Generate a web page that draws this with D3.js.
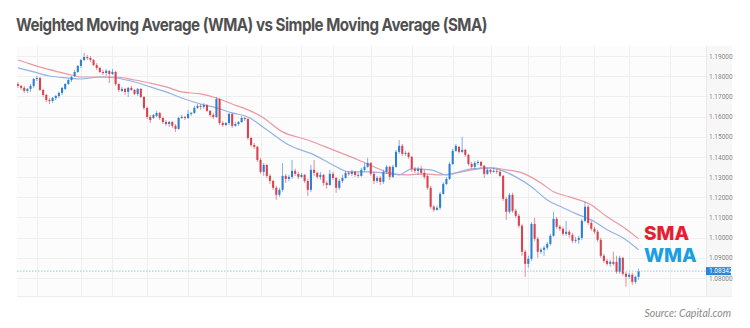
<!DOCTYPE html>
<html><head><meta charset="utf-8">
<script src="https://cdn.jsdelivr.net/npm/d3@7"></script>
<style>html,body{margin:0;padding:0;background:#fff;}svg{display:block}</style>
</head><body>
<svg id="chart" width="750" height="328"></svg>
<script>
// ---- DATA (EUR/USD style daily candles) ----
const open = [
1.1761,1.1752,1.1742,1.1727,1.1737,1.1752,1.1786,1.1791,1.1732,1.1707,
1.1682,1.1677,1.1692,1.1702,1.1717,
1.1737,1.1761,1.1781,
1.1801,1.1821,1.1851,1.1880,1.1895,1.1890,1.1880,1.1855,1.1841,1.1821,
1.1816,1.1826,1.1811,1.1821,1.1761,
1.1727,1.1737,1.1722,1.1742,1.1732,1.1712,1.1737,1.1697,1.1643,1.1598,
1.1593,
1.1603,
1.1618,1.1593,1.1573,1.1563,1.1573,1.1554,1.1539,
1.1593,1.1598,1.1593,1.1613,1.1618,1.1643,1.1653,1.1648,1.1657,1.1628,
1.1608,1.1598,1.1687,1.1568,1.1558,1.1568,1.1613,1.1554,1.1563,1.1573,
1.1593,1.1588,1.1494,1.1459,1.1450,1.1385,1.1326,1.1360,1.1306,1.1281,
1.1247,1.1212,1.1237,1.1306,1.1291,1.1301,1.1331,1.1316,1.1301,1.1311,
1.1281,1.1237,1.1336,1.1321,1.1301,1.1311,1.1271,1.1261,1.1316,1.1296,
1.1247,1.1281,1.1296,1.1321,1.1316,1.1326,1.1311,1.1306,1.1336,1.1351,
1.1370,1.1316,1.1281,1.1296,1.1276,1.1326,1.1351,1.1301,1.1351,1.1425,
1.1455,1.1415,1.1420,1.1400,1.1341,1.1331,1.1341,1.1321,
1.1306,1.1247,1.1153,1.1138,1.1148,1.1217,1.1266,1.1291,1.1365,1.1430,
1.1450,1.1425,1.1435,1.1410,1.1365,1.1351,1.1370,1.1375,1.1356,
1.1316,1.1336,1.1326,1.1331,1.1326,1.1306,1.1192,1.1128,1.1212,1.1133,
1.1108,1.1059,1.0930,1.0870,1.0895,1.1068,1.0994,1.0930,1.0940,1.0950,
1.0969,1.1009,1.1093,1.1054,1.1044,1.1019,1.1029,1.1014,1.0984,1.0989,
1.0999,1.1083,1.1153,1.1073,1.1044,1.1029,1.0989,1.0910,1.0885,1.0870,
1.0880,1.0880,1.0831,1.0900,1.0821,1.0806,1.0816,1.0781,1.0806
];
const close = [
1.1752,1.1742,1.1727,1.1737,1.1752,1.1786,1.1791,1.1732,1.1707,1.1682,
1.1677,1.1692,1.1702,1.1717,1.1742,
1.1761,1.1781,1.1796,
1.1821,1.1851,1.1880,1.1895,1.1890,1.1880,1.1855,1.1841,1.1821,1.1816,
1.1826,1.1811,1.1821,1.1761,1.1732,
1.1737,1.1722,1.1742,1.1732,1.1712,1.1737,1.1697,1.1643,1.1598,1.1583,
1.1608,
1.1618,
1.1593,1.1573,1.1563,1.1573,1.1554,1.1539,1.1593,
1.1598,1.1593,1.1613,1.1618,1.1643,1.1653,1.1648,1.1657,1.1628,1.1608,
1.1598,1.1687,1.1568,1.1558,1.1568,1.1613,1.1554,1.1563,1.1573,1.1593,
1.1588,1.1494,1.1459,1.1450,1.1385,1.1326,1.1360,1.1306,1.1281,1.1247,
1.1212,1.1237,1.1306,1.1291,1.1301,1.1331,1.1316,1.1301,1.1311,1.1281,
1.1237,1.1336,1.1321,1.1301,1.1311,1.1271,1.1261,1.1316,1.1296,1.1247,
1.1281,1.1296,1.1321,1.1316,1.1326,1.1311,1.1306,1.1336,1.1351,1.1370,
1.1316,1.1281,1.1296,1.1276,1.1326,1.1351,1.1301,1.1351,1.1425,1.1455,
1.1415,1.1420,1.1400,1.1341,1.1331,1.1341,1.1321,1.1301,
1.1247,1.1153,1.1138,1.1148,1.1217,1.1266,1.1291,1.1365,1.1430,1.1455,
1.1425,1.1435,1.1410,1.1365,1.1351,1.1370,1.1375,1.1356,1.1316,
1.1336,1.1326,1.1331,1.1326,1.1306,1.1192,1.1128,1.1212,1.1133,1.1108,
1.1059,1.0930,1.0870,1.0895,1.1068,1.0994,1.0930,1.0940,1.0950,1.0969,
1.1009,1.1093,1.1054,1.1044,1.1019,1.1029,1.1014,1.0984,1.0989,1.0999,
1.1083,1.1153,1.1073,1.1044,1.1029,1.0989,1.0910,1.0885,1.0870,1.0880,
1.0870,1.0831,1.0900,1.0821,1.0806,1.0816,1.0781,1.0806,1.08342
];
const high = [
1.1771,1.1756,1.1752,1.1742,1.1761,1.1791,1.1801,1.1796,1.1737,1.1712,
1.1692,1.1697,1.1707,1.1722,1.1747,
1.1766,1.1791,1.1801,
1.1831,1.1855,1.1885,1.1915,1.1905,1.1900,1.1885,1.1865,1.1846,1.1831,
1.1836,1.1831,1.1836,1.1826,1.1766,
1.1747,1.1742,1.1747,1.1752,1.1737,1.1742,1.1742,1.1702,1.1648,1.1608,
1.1613,
1.1628,
1.1623,1.1598,1.1583,1.1578,1.1578,1.1563,1.1598,
1.1608,1.1603,1.1633,1.1623,1.1653,1.1662,1.1662,1.1667,1.1662,1.1633,
1.1618,1.1697,1.1692,1.1578,1.1573,1.1618,1.1618,1.1573,1.1578,1.1603,
1.1598,1.1593,1.1499,1.1469,1.1455,1.1395,1.1370,1.1365,1.1316,1.1286,
1.1257,1.1247,1.1370,1.1316,1.1311,1.1385,1.1341,1.1326,1.1321,1.1316,
1.1291,1.1360,1.1385,1.1326,1.1326,1.1316,1.1281,1.1336,1.1326,1.1301,
1.1291,1.1311,1.1331,1.1331,1.1336,1.1331,1.1321,1.1346,1.1370,1.1395,
1.1375,1.1326,1.1306,1.1306,1.1336,1.1360,1.1356,1.1360,1.1435,1.1484,
1.1464,1.1430,1.1425,1.1405,1.1351,1.1351,1.1356,1.1336,
1.1311,1.1257,1.1162,1.1158,1.1227,1.1276,1.1301,1.1375,1.1440,1.1464,
1.1455,1.1499,1.1440,1.1415,1.1375,1.1380,1.1385,1.1380,1.1360,
1.1346,1.1341,1.1346,1.1341,1.1336,1.1311,1.1202,1.1222,1.1222,1.1143,
1.1118,1.1068,1.0940,1.0910,1.1078,1.1098,1.1004,1.0950,1.0960,1.0979,
1.1019,1.1128,1.1103,1.1063,1.1054,1.1083,1.1039,1.1024,1.1004,1.1009,
1.1093,1.1177,1.1162,1.1083,1.1054,1.1039,1.0999,1.0920,1.0895,1.0890,
1.0930,1.0910,1.0910,1.0905,1.0831,1.0826,1.0826,1.0811,1.0846
];
const low = [
1.1742,1.1732,1.1717,1.1717,1.1722,1.1742,1.1776,1.1727,1.1697,1.1672,
1.1662,1.1667,1.1682,1.1692,1.1707,
1.1732,1.1756,1.1771,
1.1796,1.1816,1.1841,1.1875,1.1880,1.1870,1.1851,1.1831,1.1816,1.1806,
1.1801,1.1766,1.1806,1.1752,1.1722,
1.1722,1.1707,1.1697,1.1727,1.1707,1.1702,1.1692,1.1633,1.1588,1.1568,
1.1588,
1.1598,
1.1583,1.1563,1.1554,1.1549,1.1544,1.1524,1.1534,
1.1588,1.1583,1.1588,1.1603,1.1613,1.1638,1.1633,1.1638,1.1623,1.1598,
1.1588,1.1593,1.1558,1.1549,1.1554,1.1558,1.1544,1.1549,1.1554,1.1568,
1.1578,1.1484,1.1450,1.1440,1.1375,1.1316,1.1306,1.1296,1.1266,1.1237,
1.1187,1.1202,1.1227,1.1271,1.1281,1.1291,1.1306,1.1291,1.1296,1.1271,
1.1207,1.1227,1.1306,1.1291,1.1286,1.1257,1.1242,1.1257,1.1286,1.1222,
1.1237,1.1271,1.1291,1.1306,1.1306,1.1301,1.1296,1.1301,1.1326,1.1346,
1.1306,1.1266,1.1271,1.1261,1.1266,1.1316,1.1286,1.1296,1.1346,1.1415,
1.1405,1.1405,1.1390,1.1326,1.1321,1.1311,1.1311,1.1291,
1.1237,1.1143,1.1128,1.1133,1.1138,1.1212,1.1261,1.1286,1.1360,1.1425,
1.1415,1.1420,1.1400,1.1356,1.1341,1.1341,1.1360,1.1346,1.1296,
1.1311,1.1316,1.1321,1.1316,1.1301,1.1182,1.1088,1.1118,1.1123,1.1098,
1.1049,1.0910,1.0806,1.0851,1.0885,1.0984,1.0900,1.0920,1.0910,1.0940,
1.0960,1.1004,1.1044,1.1034,1.1009,1.1009,1.0999,1.0974,1.0974,1.0969,
1.0989,1.1078,1.1063,1.1034,1.1019,1.0979,1.0900,1.0875,1.0861,1.0856,
1.0861,1.0821,1.0821,1.0811,1.0757,1.0796,1.0766,1.0771,1.0791
];
// Simple moving average line (read at sampled candle positions)
const smaIdx = [0,5,8,13,17,20,26,31,37,42,47,52,58,63,68,73,77,84,92,100,108,113,118,123,129,134,138,144,150,155,160,166,170,175,182,187,192,197];
const smaVal = [1.1880,1.1855,1.1841,1.1821,1.1806,1.1796,1.1796,1.1796,1.1781,1.1766,1.1747,1.1722,1.1712,1.1692,1.1662,1.1633,1.1603,1.1524,1.1484,1.1435,1.1385,1.1351,1.1321,1.1311,1.1316,1.1311,1.1316,1.1336,1.1346,1.1336,1.1321,1.1271,1.1227,1.1202,1.1162,1.1103,1.1054,1.0994];
// Weighted moving average line
const wmaIdx = [0,5,10,16,20,26,31,37,42,47,52,58,63,68,73,79,86,94,100,105,111,116,121,125,131,136,139,144,150,153,158,163,168,173,178,182,187,192,197];
const wmaVal = [1.1841,1.1821,1.1801,1.1791,1.1786,1.1796,1.1791,1.1771,1.1747,1.1722,1.1692,1.1662,1.1643,1.1618,1.1598,1.1534,1.1459,1.1410,1.1360,1.1326,1.1326,1.1321,1.1311,1.1341,1.1336,1.1311,1.1321,1.1341,1.1346,1.1336,1.1301,1.1252,1.1187,1.1148,1.1113,1.1088,1.1039,1.0999,1.0940];
const priceTicks = [1.08,1.09,1.10,1.11,1.12,1.13,1.14,1.15,1.16,1.17,1.18,1.19];
const timeGridIdx = [6,20,30,41,54,66,77,90,100,112,125,138,150,162,172,183,194,207];
const lastPrice = 1.08342;
const titleText = "Weighted Moving Average (WMA) vs Simple Moving Average (SMA)";
const sourceText = "Source: Capital.com";
const labels = [{text:"SMA", color:"#e5202f"}, {text:"WMA", color:"#1a9fe2"}];

// ---- DRAW ----
const svg = d3.select("#chart");
const P = {left:17, right:706, top:46, bottom:296, axisRight:732};
const n = Math.min(open.length, close.length, high.length, low.length);
const x = d3.scaleLinear().domain([-0.3, 218.4]).range([P.left, P.right]);
const y = d3.scaleLinear().domain([1.08, 1.19]).range([278, 56]);
const step = x(1) - x(0);

// panel backgrounds
svg.append("rect").attr("x",P.left).attr("y",P.top).attr("width",P.right-P.left).attr("height",P.bottom-P.top).attr("fill","#fcfcfc");
svg.append("rect").attr("x",P.right).attr("y",P.top).attr("width",P.axisRight-P.right).attr("height",P.bottom-P.top).attr("fill","#f7f7f7");

const clip = svg.append("defs").append("clipPath").attr("id","plot");
clip.append("rect").attr("x",P.left).attr("y",P.top).attr("width",P.right-P.left).attr("height",P.bottom-P.top);

// grid
const grid = svg.append("g").attr("clip-path","url(#plot)");
grid.selectAll("line.h").data(priceTicks).join("line")
  .attr("x1",P.left).attr("x2",P.right)
  .attr("y1",d=>Math.round(y(d))+0.5).attr("y2",d=>Math.round(y(d))+0.5)
  .attr("stroke","#efefef").attr("stroke-width",1);
grid.selectAll("line.v").data(timeGridIdx).join("line")
  .attr("x1",d=>Math.round(x(d))+0.5).attr("x2",d=>Math.round(x(d))+0.5)
  .attr("y1",P.top).attr("y2",P.bottom)
  .attr("stroke","#efefef").attr("stroke-width",1);
svg.append("line").attr("x1",P.right+0.5).attr("x2",P.right+0.5).attr("y1",P.top).attr("y2",P.bottom).attr("stroke","#eaeaea");
svg.append("line").attr("x1",P.left).attr("x2",P.axisRight).attr("y1",P.bottom+0.5).attr("y2",P.bottom+0.5).attr("stroke","#ececec");

// right price axis
const axis = d3.axisRight(y).tickValues(priceTicks).tickSize(0).tickPadding(3).tickFormat(d3.format(".5f"));
const ag = svg.append("g").attr("transform",`translate(${P.right},0)`).call(axis);
ag.select(".domain").remove();
ag.selectAll("text").attr("fill","#888").attr("font-size","6.5px").attr("font-family","Roboto, 'Noto Sans', sans-serif");

// moving averages
const plot = svg.append("g").attr("clip-path","url(#plot)");
const lineGen = d3.line().x(d=>x(d[0])).y(d=>y(d[1])).curve(d3.curveMonotoneX);
plot.append("path").datum(smaIdx.map((d,i)=>[d,smaVal[i]])).attr("d",lineGen)
  .attr("fill","none").attr("stroke","#ea98a2").attr("stroke-width",1.2);
plot.append("path").datum(wmaIdx.map((d,i)=>[d,wmaVal[i]])).attr("d",lineGen)
  .attr("fill","none").attr("stroke","#94b4e2").attr("stroke-width",1.2);

// candles
const up = "#2b7fd4", dn = "#d9434f";
const idx = d3.range(n);
const bw = Math.max(1.6, step*0.66);
plot.selectAll("line.wick").data(idx).join("line")
  .attr("x1",i=>x(i)).attr("x2",i=>x(i))
  .attr("y1",i=>y(high[i])).attr("y2",i=>y(low[i]))
  .attr("stroke",i=>close[i]>=open[i]?up:dn).attr("stroke-width",0.8).attr("opacity",0.75);
plot.selectAll("rect.body").data(idx).join("rect")
  .attr("x",i=>x(i)-bw/2).attr("width",bw)
  .attr("y",i=>y(Math.max(open[i],close[i])))
  .attr("height",i=>Math.max(0.8, Math.abs(y(open[i])-y(close[i]))))
  .attr("fill",i=>close[i]>=open[i]?up:dn);

// last price line + tag
plot.append("line").attr("x1",P.left).attr("x2",P.right)
  .attr("y1",y(lastPrice)).attr("y2",y(lastPrice))
  .attr("stroke","#7cc3dd").attr("stroke-width",0.8).attr("stroke-dasharray","1.5,1.5");
svg.append("rect").attr("x",P.right).attr("y",y(lastPrice)-4).attr("width",25).attr("height",8).attr("fill","#2b86d8");
svg.append("text").attr("x",P.right+3).attr("y",y(lastPrice)+2.3).text(d3.format(".5f")(lastPrice))
  .attr("fill","#fff").attr("font-size","6.5px").attr("font-family","Roboto, 'Noto Sans', sans-serif");

// SMA / WMA labels
svg.selectAll("text.lbl").data(labels).join("text")
  .attr("x",644).attr("y",(d,i)=>240+i*22)
  .attr("fill",d=>d.color).attr("font-weight",800).attr("font-size","19px")
  .attr("font-family","Inter, 'Open Sans', sans-serif").text(d=>d.text);

// title
const title = svg.append("text").attr("x",16).attr("y",31).text(titleText)
  .attr("fill","#505050").attr("font-weight",700).attr("font-size","18px")
  .attr("font-family","Inter, 'Open Sans', sans-serif").attr("letter-spacing","-0.6px");
title.attr("textLength",471).attr("lengthAdjust","spacingAndGlyphs");

// source
svg.append("text").attr("x",731).attr("y",317).attr("text-anchor","end").text(sourceText)
  .attr("fill","#8a8a8a").attr("font-style","italic").attr("font-size","10.5px")
  .attr("font-family","Lato, 'Open Sans', sans-serif");
</script>
</body></html>
